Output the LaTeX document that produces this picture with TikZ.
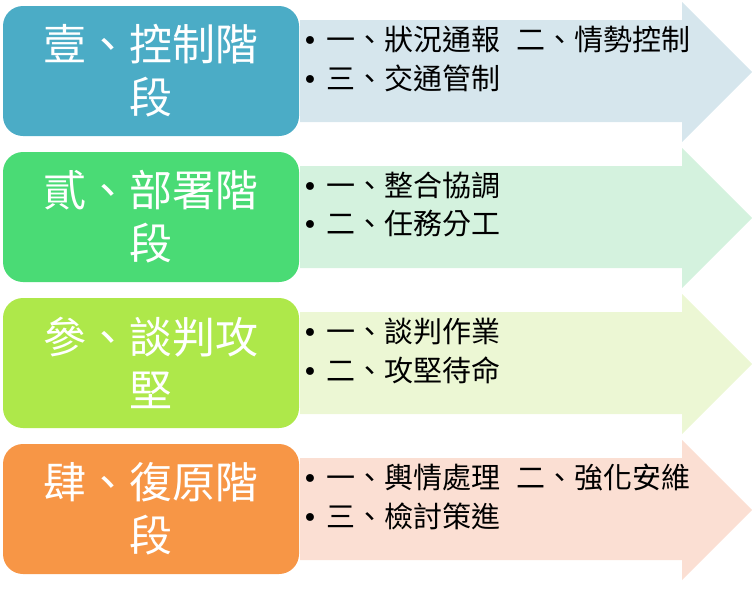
\documentclass[tikz,border=0pt]{standalone}
\usepackage{fontspec}
\setmainfont{Noto Sans CJK TC}
\newfontfamily\dvs{DejaVu Sans}
\definecolor{c1}{HTML}{4BACC6}
\definecolor{l1}{HTML}{D6E6ED}
\definecolor{c2}{HTML}{4ADB75}
\definecolor{l2}{HTML}{D4F2DE}
\definecolor{c3}{HTML}{AEE84A}
\definecolor{l3}{HTML}{ECF7D4}
\definecolor{c4}{HTML}{F79646}
\definecolor{l4}{HTML}{FBDFD3}
\newcommand{\mybul}{\makebox[24pt][l]{\dvs\fontsize{27}{27}\selectfont •}}
\begin{document}
\begin{tikzpicture}[x=1pt,y=-1pt,
  stagebox/.style={fill=#1, rounded corners=20pt, minimum width=296pt, minimum height=130pt, inner sep=0pt, text=white, align=center, font=\fontsize{43}{53}\selectfont},
  itemtext/.style={anchor=west, inner sep=0pt, font=\fontsize{29}{34}\selectfont, text=black}]
\useasboundingbox (0,0) rectangle (752,592);
\foreach \i/\ya/\tA/\tB/\iA/\iB in {
  1/0/壹、控制階/段/一、狀況通報\hspace{16pt}二、情勢控制/三、交通管制,
  2/146/貳、部署階/段/一、整合協調/二、任務分工,
  3/292/參、談判攻/堅/一、談判作業/二、攻堅待命,
  4/438/肆、復原階/段/一、輿情處理\hspace{16pt}二、強化安維/三、檢討策進}{
  \fill[fill=l\i] (300,20+\ya) -- (682,20+\ya) -- (682,2+\ya) -- (752,72+\ya)
     -- (682,142+\ya) -- (682,122+\ya) -- (300,122+\ya) -- cycle;
  \node[stagebox=c\i] (t\i) at (151,71+\ya) {\tA\\\tB};
  \node[itemtext] (p\i) at (302,39.5+\ya) {\mybul\iA};
  \node[itemtext] (q\i) at (302,78+\ya) {\mybul\iB};
}
\end{tikzpicture}
\end{document}
